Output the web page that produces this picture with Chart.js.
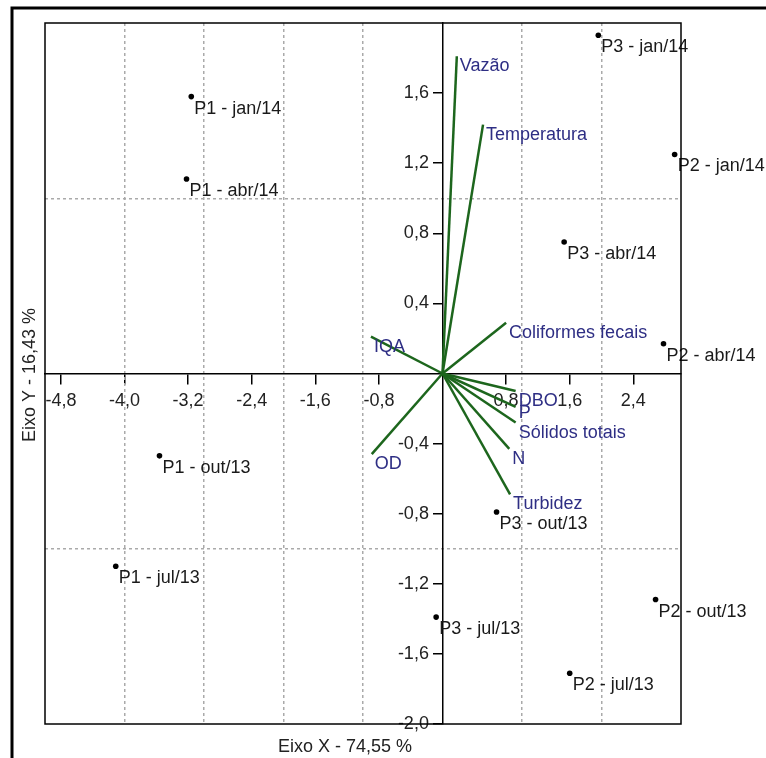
<!DOCTYPE html>
<html>
<head>
<meta charset="utf-8">
<script src="https://cdn.jsdelivr.net/npm/chart.js@4.4.1/dist/chart.umd.min.js"></script>
<style>
  html, body { margin: 0; padding: 0; background: #fff; }
  #wrap { width: 766px; height: 758px; }
</style>
</head>
<body>
<div id="wrap"><canvas id="pcaChart" width="766" height="758"></canvas></div>
<script>
// sample scores (PC1, PC2)
const sampleLabels = [
  "P1 - jan/14", "P1 - abr/14", "P3 - jan/14", "P2 - jan/14",
  "P3 - abr/14", "P2 - abr/14", "P1 - out/13", "P1 - jul/13",
  "P3 - out/13", "P3 - jul/13", "P2 - out/13", "P2 - jul/13"
];
const sampleX = [-3.16, -3.22, 1.96, 2.92, 1.53, 2.78, -3.56, -4.11, 0.68, -0.08, 2.68, 1.60];
const sampleY = [1.58, 1.11, 1.93, 1.25, 0.75, 0.17, -0.47, -1.10, -0.79, -1.39, -1.29, -1.71];

// variable loadings (vectors from origin)
const variables = ["Vazão", "Temperatura", "Coliformes fecais", "IQA", "OD", "DBO", "P", "Sólidos totais", "N", "Turbidez"];
const varX = [0.18, 0.51, 0.80, -0.90, -0.89, 0.92, 0.92, 0.92, 0.84, 0.85];
const varY = [1.81, 1.42, 0.29, 0.21, -0.46, -0.10, -0.19, -0.28, -0.43, -0.69];

// axis ticks and grid lines
const xTicks = [-4.8, -4.0, -3.2, -2.4, -1.6, -0.8, 0.8, 1.6, 2.4];
const yTicks = [-2.0, -1.6, -1.2, -0.8, -0.4, 0.4, 0.8, 1.2, 1.6];
const xGrid = [-4, -3, -2, -1, 1, 2];
const yGrid = [-1, 1];

const FONT = "'Liberation Sans', Arial, sans-serif";
const fmt = (v) => v.toFixed(1).replace(".", ",");

const labelPlugin = {
  id: "labelPlugin",
  beforeDraw(chart) {
    const ctx = chart.ctx;
    ctx.save();
    // outer frame (top + left)
    ctx.strokeStyle = "#000";
    ctx.lineWidth = 3;
    ctx.beginPath();
    ctx.moveTo(12, 758);
    ctx.lineTo(12, 8);
    ctx.lineTo(766, 8);
    ctx.stroke();
    ctx.restore();
  },
  afterDatasetsDraw(chart) {
    const ctx = chart.ctx;
    const area = chart.chartArea;
    ctx.save();
    ctx.font = "18px " + FONT;
    ctx.textBaseline = "middle";
    ctx.textAlign = "left";

    // sample labels
    ctx.fillStyle = "#1a1a1a";
    chart.getDatasetMeta(0).data.forEach((pt, i) => {
      ctx.fillText(sampleLabels[i], pt.x + 3, pt.y + 12);
    });

    // variable labels
    ctx.fillStyle = "#2e2e84";
    variables.forEach((name, i) => {
      const tip = chart.getDatasetMeta(i + 1).data[1];
      const dy = name === "P" ? 6 : 10;
      ctx.fillText(name, tip.x + 3, tip.y + dy);
    });

    // plot box
    ctx.strokeStyle = "#000";
    ctx.lineWidth = 1.5;
    ctx.strokeRect(area.left, area.top, area.right - area.left, area.bottom - area.top);

    // axis titles
    ctx.fillStyle = "#222";
    ctx.textAlign = "center";
    ctx.fillText("Eixo X - 74,55 %", 345, 747);
    ctx.translate(30, 375);
    ctx.rotate(-Math.PI / 2);
    ctx.fillText("Eixo Y - 16,43 %", 0, 0);
    ctx.restore();
  }
};

const sampleData = sampleX.map((x, i) => ({ x: x, y: sampleY[i] }));
const vectorSets = variables.map((name, i) => ({
  label: name,
  data: [{ x: 0, y: 0 }, { x: varX[i], y: varY[i] }],
  showLine: true,
  borderColor: "#1d661d",
  borderWidth: 2.5,
  pointRadius: 0
}));

const ctx = document.getElementById("pcaChart").getContext("2d");
new Chart(ctx, {
  type: "scatter",
  data: {
    datasets: [
      {
        label: "Amostras",
        data: sampleData,
        pointRadius: 2.8,
        backgroundColor: "#000",
        borderColor: "#000",
        borderWidth: 0
      },
      ...vectorSets
    ]
  },
  options: {
    responsive: false,
    animation: false,
    layout: { padding: { left: 45, top: 23, right: 85, bottom: 34 } },
    plugins: { legend: { display: false }, tooltip: { enabled: false } },
    scales: {
      x: {
        type: "linear",
        min: -5,
        max: 3,
        position: { y: 0 },
        afterBuildTicks: (scale) => { scale.ticks = xTicks.map((v) => ({ value: v })); },
        ticks: { callback: (v) => fmt(v), color: "#222", font: { family: FONT, size: 18 }, padding: 7, maxRotation: 0, autoSkip: false },
        grid: { drawOnChartArea: false, drawTicks: true, tickLength: 10, color: "#000", lineWidth: 1.5 },
        border: { display: true, color: "#000", width: 1.5 }
      },
      y: {
        type: "linear",
        min: -2,
        max: 2,
        position: { x: 0 },
        afterBuildTicks: (scale) => { scale.ticks = yTicks.map((v) => ({ value: v })); },
        // centred axis draws labels flush with the axis line, so pad with spaces
        ticks: { callback: (v) => fmt(v) + "  \u2009", color: "#222", font: { family: FONT, size: 18 }, autoSkip: false },
        grid: { drawOnChartArea: false, drawTicks: true, tickLength: 9, color: "#000", lineWidth: 1.5 },
        border: { display: true, color: "#000", width: 1.5 }
      },
      xg: {
        type: "linear",
        min: -5,
        max: 3,
        position: { y: 0 },
        afterBuildTicks: (scale) => { scale.ticks = xGrid.map((v) => ({ value: v })); },
        ticks: { display: false },
        grid: { drawTicks: false, color: "#aaa", lineWidth: 1.5 },
        border: { display: false, dash: [3, 3] }
      },
      yg: {
        type: "linear",
        min: -2,
        max: 2,
        position: { x: 0 },
        afterBuildTicks: (scale) => { scale.ticks = yGrid.map((v) => ({ value: v })); },
        ticks: { display: false },
        grid: { drawTicks: false, color: "#aaa", lineWidth: 1.5 },
        border: { display: false, dash: [3, 3] }
      }
    }
  },
  plugins: [labelPlugin]
});
</script>
</body>
</html>
